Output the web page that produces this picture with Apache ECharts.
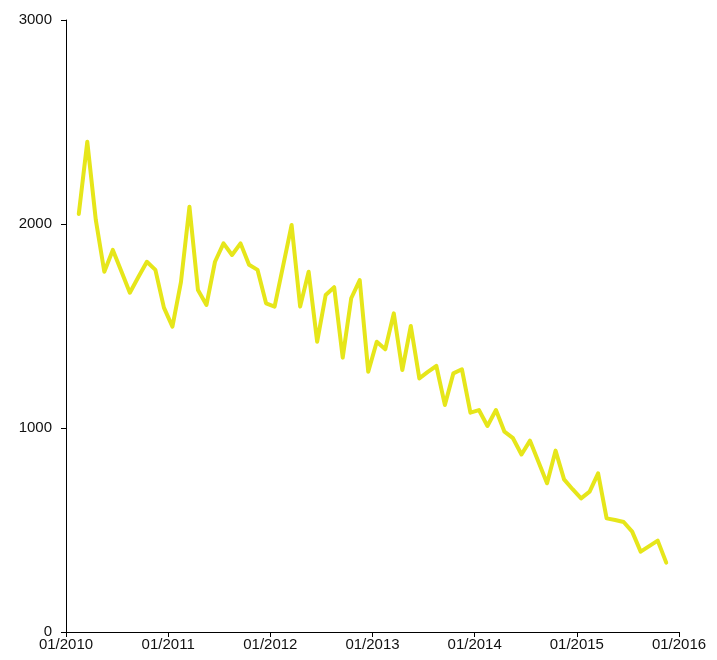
<!DOCTYPE html>
<html>
<head>
<meta charset="utf-8">
<script src="https://cdn.jsdelivr.net/npm/echarts@6/dist/echarts.min.js"></script>
<style>
html,body{margin:0;padding:0;background:#fff;}
#chart{width:717px;height:660px;}
</style>
</head>
<body>
<div id="chart"></div>
<script>
// Months (YYYY-MM), Feb 2010 .. Nov 2015
var startYear = 2010;
var months = [
  '2010-02','2010-03','2010-04','2010-05','2010-06','2010-07','2010-08','2010-09','2010-10','2010-11','2010-12',
  '2011-01','2011-02','2011-03','2011-04','2011-05','2011-06','2011-07','2011-08','2011-09','2011-10','2011-11','2011-12',
  '2012-01','2012-02','2012-03','2012-04','2012-05','2012-06','2012-07','2012-08','2012-09','2012-10','2012-11','2012-12',
  '2013-01','2013-02','2013-03','2013-04','2013-05','2013-06','2013-07','2013-08','2013-09','2013-10','2013-11','2013-12',
  '2014-01','2014-02','2014-03','2014-04','2014-05','2014-06','2014-07','2014-08','2014-09','2014-10','2014-11','2014-12',
  '2015-01','2015-02','2015-03','2015-04','2015-05','2015-06','2015-07','2015-08','2015-09','2015-10','2015-11'
];
var values = [
  2049,2403,2020,1766,1873,1768,1663,1740,1815,1775,1590,
  1497,1715,2085,1676,1603,1815,1905,1848,1905,1800,1775,1611,
  1595,1795,1995,1595,1766,1423,1652,1690,1345,1636,1725,1276,
  1423,1386,1562,1284,1500,1243,1275,1304,1113,1268,1288,1075,
  1088,1010,1088,982,950,870,938,833,729,889,748,700,
  655,688,778,557,549,539,492,394,421,448,340
];
var xTickLabels = ['01/2010','01/2011','01/2012','01/2013','01/2014','01/2015','01/2016'];
var yTicks = [0, 1000, 2000, 3000];

function monthPos(s){
  var p = s.split('-');
  return (parseInt(p[0],10) - startYear) * 12 + (parseInt(p[1],10) - 1) + 0.5;
}
var seriesData = months.map(function(m, i){ return [monthPos(m), values[i]]; });

var chart = echarts.init(document.getElementById('chart'));
chart.setOption({
  animation: false,
  backgroundColor: '#ffffff',
  grid: { left: 66, right: 38, top: 20, bottom: 28, containLabel: false },
  xAxis: {
    type: 'value',
    min: 0,
    max: (xTickLabels.length - 1) * 12,
    interval: 12,
    splitLine: { show: false },
    axisLine: { show: true, onZero: false, lineStyle: { color: '#000', width: 1 } },
    axisTick: { show: true, inside: false, length: 5, lineStyle: { color: '#000' } },
    axisLabel: {
      color: '#111', fontFamily: 'Liberation Sans, Arial, sans-serif', fontSize: 15, margin: 5,
      formatter: function(v){ return xTickLabels[Math.round(v / 12)]; }
    }
  },
  yAxis: {
    type: 'value',
    min: yTicks[0],
    max: yTicks[yTicks.length - 1],
    interval: 1000,
    splitLine: { show: false },
    axisLine: { show: true, lineStyle: { color: '#000', width: 1 } },
    axisTick: { show: true, inside: false, length: 5, lineStyle: { color: '#000' } },
    axisLabel: {
      color: '#111', fontFamily: 'Liberation Sans, Arial, sans-serif', fontSize: 15, margin: 14,
      formatter: function(v){ return String(v); }
    }
  },
  series: [{
    type: 'line',
    data: seriesData,
    showSymbol: false,
    symbol: 'none',
    lineStyle: { color: '#e6e61a', width: 4, join: 'round', cap: 'round' },
    itemStyle: { color: '#e6e61a' }
  }]
});
</script>
</body>
</html>
